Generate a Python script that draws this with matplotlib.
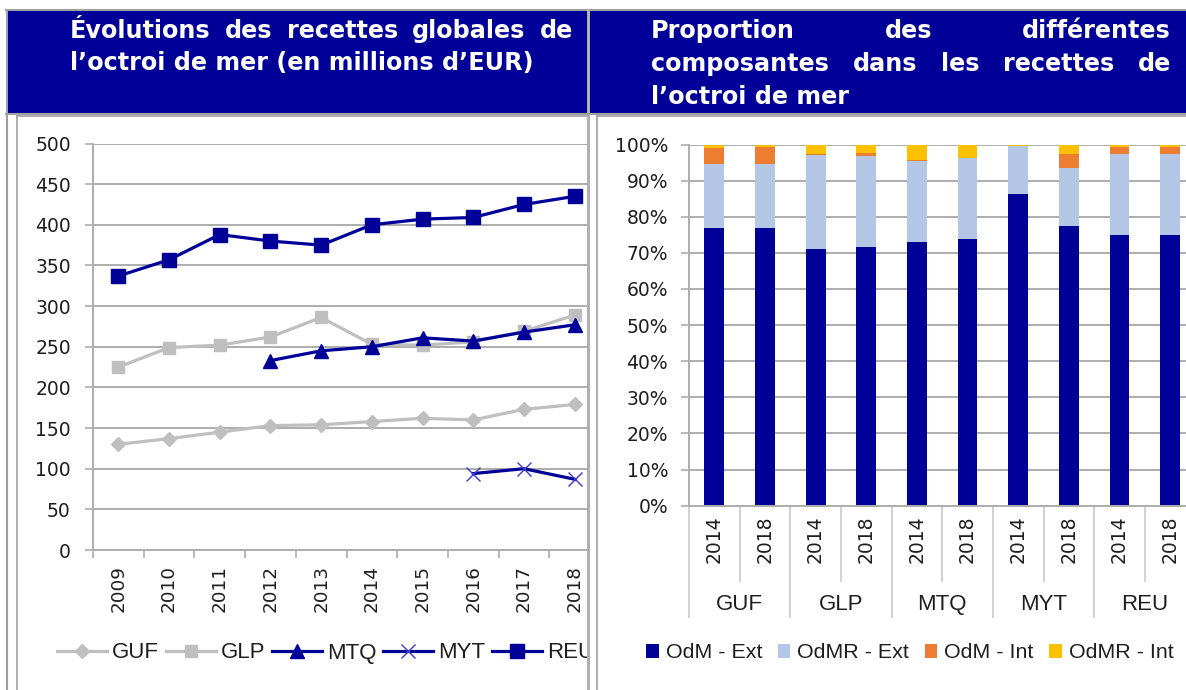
import numpy as np
import matplotlib
matplotlib.use("Agg")
import matplotlib.pyplot as plt
from matplotlib.patches import Rectangle
from matplotlib.lines import Line2D
import matplotlib.transforms as mtransforms

# ---- data (left chart) ----
years = ['2009', '2010', '2011', '2012', '2013', '2014', '2015', '2016', '2017', '2018']
guf = [130, 137, 145, 153, 154, 158, 162, 160, 173, 179]
glp = [225, 249, 252, 262, 286, 253, 252, 256, 269, 289]
mtq = [np.nan, np.nan, np.nan, 233, 245, 250, 261, 257, 268, 277]
myt = [np.nan, np.nan, np.nan, np.nan, np.nan, np.nan, np.nan, 94, 100, 87]
reu = [337, 357, 388, 380, 375, 400, 407, 409, 425, 435]

# ---- data (right chart) ----
groups = ['GUF', 'GLP', 'MTQ', 'MYT', 'REU']
bar_years = ['2014', '2018']
odm_ext = [77.0, 77.0, 71.0, 71.6, 73.0, 73.7, 86.2, 77.4, 74.9, 74.9]
odmr_ext = [17.6, 17.6, 26.1, 25.2, 22.4, 22.5, 13.5, 16.2, 22.5, 22.5]
odm_int = [4.3, 4.8, 0.3, 0.8, 0.4, 0.0, 0.0, 3.7, 2.0, 2.0]
odmr_int = [1.1, 0.6, 2.6, 2.4, 4.2, 3.8, 0.3, 2.7, 0.6, 0.6]

title_left = ["Évolutions des recettes globales de", "l’octroi de mer (en millions d’EUR)"]
title_right = ["Proportion des différentes", "composantes dans les recettes de", "l’octroi de mer"]

W, H = 1186, 690
BLUE = '#000099'
GRAY = '#BFBFBF'
GRID = '#ADADAD'
TXT = '#1E1E1E'

fig = plt.figure(figsize=(W / 100, H / 100), dpi=100)


def fx(x):
    return x / W


def fy(y):
    return 1 - y / H


def rect(x0, y0, x1, y1, color, z):
    r = Rectangle((fx(x0), fy(y1)), fx(x1) - fx(x0), fy(y0) - fy(y1),
                  transform=fig.transFigure, facecolor=color, edgecolor='none', zorder=z)
    fig.add_artist(r)


def vline(x, y0, y1, z, lw=1.2, color='#A0A0A0'):
    fig.add_artist(Line2D([fx(x), fx(x)], [fy(y0), fy(y1)], transform=fig.transFigure,
                          color=color, lw=lw, zorder=z))


def hline(y, x0, x1, z, lw=1.2, color='#A0A0A0'):
    fig.add_artist(Line2D([fx(x0), fx(x1)], [fy(y), fy(y)], transform=fig.transFigure,
                          color=color, lw=lw, zorder=z))


# table frame, left cell
hline(10, 6, W, 0.5, lw=1.5)
vline(7, 10, H, 0.5, lw=1.5)
vline(17, 116, H, 0.5)
hline(116, 17, 588, 0.5)

# ---------------- left chart ----------------
axl = fig.add_axes([fx(93), fy(550), fx(600) - fx(93), fy(143.5) - fy(550)], zorder=1)
axl.patch.set_visible(False)
x = np.arange(len(years))
axl.plot(x, guf, color=GRAY, lw=2.3, marker='D', ms=7, label='GUF')
axl.plot(x, glp, color=GRAY, lw=2.3, marker='s', ms=9, label='GLP')
axl.plot(x, mtq, color=BLUE, lw=2.3, marker='^', ms=10, label='MTQ')
axl.plot(x, myt, color=BLUE, lw=2.3, marker='x', ms=10, mew=1.0, mec='#3A3AD0', label='MYT')
axl.plot(x, reu, color=BLUE, lw=2.3, marker='s', ms=10, label='REU')
axl.set_xlim(-0.5, 9.5)
axl.set_ylim(0, 500)
axl.set_yticks(np.arange(0, 501, 50))
axl.grid(axis='y', color=GRID, lw=1.4)
axl.set_axisbelow(True)
axl.set_xticks(x, years, rotation=90)
axl.set_xticks(np.arange(-0.5, 10, 1), minor=True)
axl.tick_params(axis='x', which='major', length=0, pad=11, labelsize=13.2, labelcolor=TXT)
axl.tick_params(axis='x', which='minor', length=6, width=1.2, color=GRID, direction='out')
axl.tick_params(axis='y', length=6, width=1.2, color=GRID, pad=10, labelsize=13.5, labelcolor=TXT)
for s in ['top', 'right']:
    axl.spines[s].set_visible(False)
for s in ['left', 'bottom']:
    axl.spines[s].set_color(GRID)
    axl.spines[s].set_linewidth(1.4)
legl = axl.legend(loc='center left', bbox_to_anchor=(fx(57), fy(653)),
                  bbox_transform=fig.transFigure, ncol=5, frameon=False,
                  prop={'family': 'Liberation Sans', 'size': 16},
                  handlelength=2.25, handletextpad=0.23, columnspacing=0.3,
                  borderaxespad=0, borderpad=0)
for t in legl.get_texts():
    t.set_color(TXT)

# cover for right cell
rect(588, 114, W, H, 'white', 2)
vline(588, 10, H, 2.5, lw=2.2, color='#B0B0B0')
vline(597, 116, H, 2.5)
hline(116, 597, W, 2.5)

# ---------------- right chart ----------------
axr = fig.add_axes([fx(689), fy(505.7), fx(1195.5) - fx(689), fy(144.5) - fy(505.7)], zorder=3)
axr.patch.set_visible(False)
xb = np.arange(len(odm_ext))
bw = 0.39
b1 = np.array(odm_ext)
b2 = b1 + np.array(odmr_ext)
b3 = b2 + np.array(odm_int)
axr.bar(xb, odm_ext, bw, color=BLUE, label='OdM - Ext')
axr.bar(xb, odmr_ext, bw, bottom=b1, color='#B4C7E7', label='OdMR - Ext')
axr.bar(xb, odm_int, bw, bottom=b2, color='#ED7D31', label='OdM - Int')
axr.bar(xb, odmr_int, bw, bottom=b3, color='#FFC000', label='OdMR - Int')
axr.set_xlim(-0.5, 9.5)
axr.set_ylim(0, 100)
axr.set_yticks(np.arange(0, 101, 10), [f'{v}%' for v in range(0, 101, 10)])
axr.grid(axis='y', color=GRID, lw=1.4)
axr.set_axisbelow(True)
axr.set_xticks(xb, bar_years * len(groups), rotation=90)
axr.tick_params(axis='x', length=0, pad=7, labelsize=13.5, labelcolor=TXT)
axr.tick_params(axis='y', length=6, width=1.2, color=GRID, pad=9, labelsize=13.5, labelcolor=TXT)
for s in ['top', 'right']:
    axr.spines[s].set_visible(False)
for s in ['left', 'bottom']:
    axr.spines[s].set_color(GRID)
    axr.spines[s].set_linewidth(1.4)
tr = mtransforms.blended_transform_factory(axr.transData, axr.transAxes)
ax_h = fy(144.5) - fy(505.7)
y_in = -(581 - 505.7) / (ax_h * H)
y_out = -(617 - 505.7) / (ax_h * H)
y_lab = -(610 - 505.7) / (ax_h * H)
for g in range(len(groups)):
    axr.plot([2 * g + 0.5] * 2, [0, y_in], transform=tr, color='#C8C8C8', lw=1.2, clip_on=False)
    axr.text(2 * g + 0.5, y_lab, groups[g], transform=tr, ha='center', va='baseline',
             fontsize=16, family='Liberation Sans', color=TXT)
for g in range(len(groups) + 1):
    axr.plot([2 * g - 0.5] * 2, [0, y_out], transform=tr, color='#C8C8C8', lw=1.2, clip_on=False)
legr = axr.legend(loc='center left', bbox_to_anchor=(fx(646), fy(653)),
                  bbox_transform=fig.transFigure, ncol=4, frameon=False,
                  prop={'family': 'Liberation Sans', 'size': 15.4},
                  handlelength=0.6, handleheight=0.6, handletextpad=0.32, columnspacing=0.72,
                  borderaxespad=0, borderpad=0)
for t in legr.get_texts():
    t.set_color(TXT)

# ---------------- headers ----------------
rect(8, 11, 587, 113, BLUE, 4)
rect(590, 11, W, 113, BLUE, 4)
hline(114, 6, W, 4, lw=1.5, color='#A0A0A0')

renderer = fig.canvas.get_renderer()
HFS = 17.2


def header_line(text, x0, x1, y, justify):
    words = text.split(' ')
    if not justify:
        fig.text(fx(x0), fy(y), text, color='white', fontsize=HFS, fontweight='bold',
                 va='center', ha='left', zorder=5)
        return
    items = [fig.text(0, fy(y), w, color='white', fontsize=HFS, fontweight='bold',
                      va='center', ha='left', zorder=5) for w in words]
    widths = [it.get_window_extent(renderer).width for it in items]
    gap = (x1 - x0 - sum(widths)) / (len(words) - 1)
    pos = x0
    for it, wd in zip(items, widths):
        it.set_x(fx(pos))
        pos += wd + gap


header_line(title_left[0], 70, 573, 31, True)
header_line(title_left[1], 70, 573, 63, False)
header_line(title_right[0], 651, 1171, 31, True)
header_line(title_right[1], 651, 1171, 64, True)
header_line(title_right[2], 651, 1171, 97, False)

fig.savefig('out.png', dpi=100)
